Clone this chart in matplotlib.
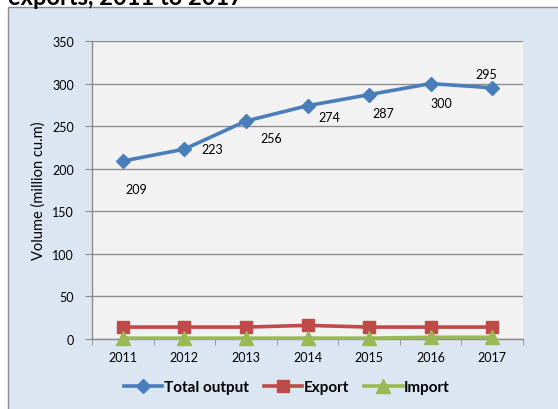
import numpy as np
import matplotlib.pyplot as plt
from matplotlib.patches import Rectangle

plt.rcParams['font.family'] = ['Lato', 'DejaVu Sans']

years = ['2011', '2012', '2013', '2014', '2015', '2016', '2017']
total_output = [209, 223, 256, 274, 287, 300, 295]
export = [14, 14, 14, 16, 14, 14, 14]
imports = [1, 1, 1, 1, 1, 2, 2]

# label offsets in points (dx, dy) for the total output values
label_offsets = [(10, -20), (20, 0), (18, -12), (16, -8), (10, -13), (8, -14), (-4, 10)]

W, H = 558, 410
fig = plt.figure(figsize=(W / 100, H / 100), dpi=100)
fig.patch.set_facecolor('white')

# chart background with border
bg = Rectangle((8 / W, -0.05), 1.0, 1.05 - 8 / H, transform=fig.transFigure,
               facecolor='#dce6f2', edgecolor='#8c8c8c', linewidth=1.0, zorder=-10)
fig.patches.append(bg)

# clipped title (cut off at the top in the source too)
fig.text(8 / W, 1 - 5 / H, 'exports, 2011 to 2017', fontsize=17, fontweight='bold',
         ha='left', va='baseline', color='black')

ax = fig.add_axes([92 / W, 1 - 340 / H, (523 - 92) / W, (340 - 42) / H])
ax.set_facecolor('#f2f2f2')

x = np.arange(len(years))
ax.plot(x, total_output, color='#4a7ebb', linewidth=2.6, marker='D', markersize=7,
        label='Total output', zorder=3, clip_on=False)
ax.plot(x, export, color='#be4b48', linewidth=2.6, marker='s', markersize=8.5,
        label='Export', zorder=3, clip_on=False)
ax.plot(x, imports, color='#98b954', linewidth=2.6, marker='^', markersize=10,
        label='Import', zorder=4, clip_on=False)

for xi, v, (dx, dy) in zip(x, total_output, label_offsets):
    ax.annotate(str(v), (xi, v), xytext=(dx, dy), textcoords='offset points',
                ha='center', va='center', fontsize=9, color='black')

ax.set_xlim(-0.5, 6.5)
ax.set_ylim(0, 350)
ax.set_yticks(np.arange(0, 351, 50))
ax.yaxis.grid(True, color='#8c8c8c', linewidth=1.0)
ax.set_axisbelow(True)

ax.set_xticks(x)
ax.set_xticklabels(years)
ax.set_xticks(np.arange(-0.5, 7, 1), minor=True)
ax.tick_params(axis='x', which='major', length=0, labelsize=9, pad=9)
ax.tick_params(axis='x', which='minor', length=4, color='#8c8c8c', direction='out')
ax.tick_params(axis='y', length=5, color='#8c8c8c', labelsize=9, pad=8)

for s in ['top', 'right']:
    ax.spines[s].set_visible(False)
for s in ['left', 'bottom']:
    ax.spines[s].set_color('#8c8c8c')
    ax.spines[s].set_linewidth(1.0)

ax.set_ylabel('Volume (million cu.m)', fontsize=10.5, labelpad=5)

leg = fig.legend(loc='center', bbox_to_anchor=(287 / W, 1 - 388 / H), ncol=3,
                 frameon=False, prop={'weight': 'bold', 'size': 11},
                 handlelength=2.5, handletextpad=0.1, columnspacing=1.0)

fig.savefig('out.png', dpi=100)
